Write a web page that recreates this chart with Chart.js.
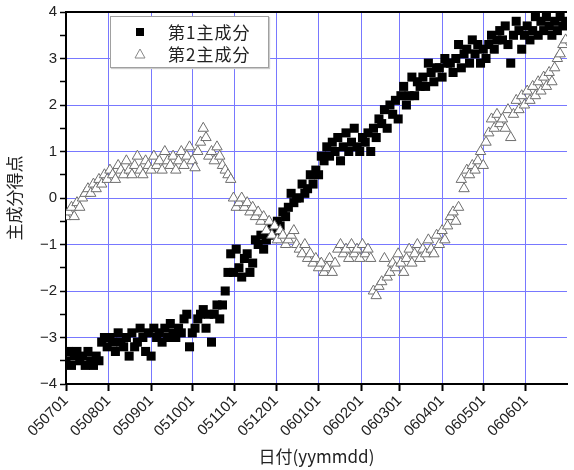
<!DOCTYPE html>
<html>
<head>
<meta charset="utf-8">
<script src="https://cdn.jsdelivr.net/npm/chart.js@4.4.1/dist/chart.umd.min.js"></script>
<style>
  html, body { margin: 0; padding: 0; background: #fff; }
  #wrap { position: relative; width: 574px; height: 470px; }
  #legend {
    position: absolute; left: 110px; top: 16px; width: 157px; height: 50px;
    border: 1px solid #a0a0a0; background: #fff; box-shadow: 1px 1px 1px #ccc;
    font-family: 'Noto Sans CJK JP', sans-serif; font-size: 17px; color: #222;
  }
  .row { position: absolute; left: 0; height: 22px; line-height: 22px; }
  .row span { position: absolute; left: 57px; white-space: nowrap; letter-spacing: 1px; }
  .sq { position: absolute; left: 25px; top: 7px; width: 8px; height: 8px; background: #000; }
  .tri { position: absolute; left: 23px; top: 5px; }
</style>
</head>
<body>
<div id="wrap">
  <canvas id="c" width="574" height="470"></canvas>
  <div id="legend">
    <div class="row" style="top:4px;"><div class="sq"></div><span>第1主成分</span></div>
    <div class="row" style="top:26px;"><svg class="tri" width="12" height="11"><polygon points="6,1 11,10 1,10" fill="#fff" stroke="#888" stroke-width="1"/></svg><span>第2主成分</span></div>
  </div>
</div>
<script>
// days since 2005-07-01
const days = [0,2,4,6,8,10,12,14,16,18,20,22,24,26,28,30,32,34,36,38,40,42,44,46,48,50,52,54,56,58,
  60,62,64,66,68,70,72,74,76,78,80,82,84,86,88,90,92,94,96,98,100,102,104,106,108,110,112,114,116,118,
  120,122,124,126,128,130,132,134,136,138,140,142,144,146,148,150,152,154,156,158,160,162,164,166,168,170,172,174,176,178,
  180,182,184,186,188,190,192,194,196,198,200,202,204,206,208,210,212,214,216,218,220,222,224,226,228,230,232,234,236,238,
  240,242,244,246,248,250,252,254,256,258,260,262,264,266,268,270,272,274,276,278,280,282,284,286,288,290,292,294,296,298,
  300,302,304,306,308,310,312,314,316,318,320,322,324,326,328,330,332,334,336,338,340,342,344,346,348,350,352,354,356,358,
  360,362,364];

const pc1 = [-3.5,-3.3,-3.6,-3.4,-3.3,-3.5,-3.4,-3.6,-3.3,-3.5,-3.6,-3.4,-3.5,-3.1,-3.0,-3.2,-3.0,-3.1,-3.3,-2.9,-3.1,-3.2,-3.0,-3.4,-2.9,-3.2,-3.1,-2.8,-3.0,-3.3,
  -2.9,-3.4,-2.8,-3.0,-2.9,-3.1,-2.8,-3.0,-2.7,-2.9,-3.0,-2.8,-2.9,-2.6,-2.5,-3.2,-2.9,-2.8,-2.6,-2.5,-2.4,-2.8,-2.5,-3.1,-2.5,-2.3,-2.6,-2.3,-2.0,-1.6,
  -1.2,-1.6,-1.1,-1.5,-1.7,-1.3,-1.2,-1.6,-1.4,-0.9,-1.0,-0.8,-1.1,-0.9,-0.8,-0.6,-0.7,-0.5,-0.6,-0.3,-0.4,-0.2,0.1,-0.1,0.0,0.0,0.3,0.1,0.2,0.5,
  0.3,0.6,0.5,0.9,0.8,1.1,0.9,1.2,1.0,1.3,0.8,1.1,1.4,1.0,1.2,1.5,1.1,1.0,1.3,1.2,1.4,1.0,1.5,1.3,1.7,1.6,1.9,1.5,2.0,1.8,
  2.1,1.7,2.2,2.4,2.0,2.2,2.6,2.2,2.5,2.4,2.6,2.4,2.9,2.7,2.5,2.8,2.8,2.6,3.0,2.9,2.9,2.7,3.0,3.3,2.8,3.1,3.2,2.9,3.4,3.1,
  3.3,2.9,3.2,3.0,3.3,3.5,3.2,3.4,3.6,3.4,3.7,3.3,2.9,3.5,3.8,3.6,3.2,3.5,3.7,3.4,3.6,3.9,3.5,3.8,3.6,3.9,3.7,3.5,3.8,3.6,
  3.9,3.7,3.8];

const pc2 = [-0.4,-0.3,-0.2,-0.4,-0.1,-0.2,0.0,0.1,0.2,0.1,0.3,0.2,0.4,0.3,0.5,0.4,0.6,0.5,0.4,0.7,0.6,0.5,0.8,0.6,0.5,0.7,0.9,0.6,0.5,0.8,
  0.7,0.6,0.9,0.7,0.8,0.6,1.0,0.8,0.7,0.9,0.6,0.8,1.0,0.7,0.9,1.1,0.8,0.65,1.0,1.2,1.5,1.3,0.9,1.0,0.8,1.1,0.9,0.7,0.6,0.5,
  0.4,0.0,-0.2,-0.1,0.0,-0.2,-0.1,-0.3,-0.2,-0.4,-0.3,-0.5,-0.4,-0.7,-0.5,-0.8,-0.6,-0.9,-0.7,-0.8,-1.0,-0.9,-0.8,-0.7,-1.0,-1.1,-1.2,-1.0,-1.3,-1.2,
  -1.4,-1.3,-1.5,-1.4,-1.6,-1.5,-1.3,-1.6,-1.4,-1.1,-1.0,-1.2,-1.1,-1.3,-1.0,-1.2,-1.1,-1.3,-1.0,-1.2,-1.1,-1.3,-2.0,-2.1,-1.9,-1.8,-1.3,-1.7,-1.6,-1.4,
  -1.5,-1.2,-1.4,-1.6,-1.3,-1.1,-1.4,-1.2,-1.0,-1.3,-1.1,-1.2,-0.9,-1.1,-1.2,-0.8,-1.0,-0.7,-0.9,-0.6,-0.4,-0.3,-0.5,-0.2,0.4,0.2,0.6,0.5,0.7,0.6,
  0.8,1.0,0.7,1.2,1.4,1.7,1.5,1.8,1.6,1.7,1.5,1.9,1.3,1.8,2.1,1.9,2.2,2.0,2.3,2.1,2.4,2.2,2.5,2.3,2.6,2.4,2.7,2.5,2.8,3.0,
  3.1,3.3,3.4];

const tickDays = [0,31,62,92,123,153,184,215,243,274,304,335];
const tickLabels = ['050701','050801','050901','051001','051101','051201','060101','060201','060301','060401','060501','060601'];

const GRID_BLUE = '#7878ff';
const FONT = "'Liberation Sans', 'Noto Sans CJK JP', sans-serif";

const frameTop = {
  id: 'frameTop',
  afterDraw(chart) {
    const { ctx, chartArea: a } = chart;
    ctx.save();
    ctx.strokeStyle = '#000';
    ctx.lineWidth = 2;
    ctx.beginPath();
    ctx.moveTo(a.left, a.top);
    ctx.lineTo(a.right, a.top);
    ctx.stroke();
    ctx.restore();
  }
};

new Chart(document.getElementById('c'), {
  type: 'scatter',
  data: {
    datasets: [
      {
        label: '第1主成分',
        data: days.map((d, i) => ({ x: d, y: pc1[i] })),
        pointStyle: 'rect', pointRadius: 6.4,
        backgroundColor: '#000', borderColor: '#000', borderWidth: 0,
        order: 1
      },
      {
        label: '第2主成分',
        data: days.map((d, i) => ({ x: d, y: pc2[i] })),
        pointStyle: 'triangle', pointRadius: 6,
        backgroundColor: '#fff', borderColor: '#6e6e6e', borderWidth: 1,
        order: 0
      }
    ]
  },
  options: {
    responsive: false,
    animation: false,
    layout: { padding: { top: 12, right: 0, left: 0, bottom: 0 } },
    plugins: { legend: { display: false }, tooltip: { enabled: false } },
    scales: {
      x: {
        type: 'linear', min: 0, max: 365,
        afterBuildTicks: s => { s.ticks = tickDays.map(v => ({ value: v })); },
        afterFit: s => { s.height = 86; },
        ticks: {
          autoSkip: false, minRotation: 45, maxRotation: 45, padding: 1,
          color: '#222', font: { family: FONT, size: 15 },
          callback: (v) => { const i = tickDays.indexOf(v); return i >= 0 ? tickLabels[i] : ''; }
        },
        grid: { color: GRID_BLUE, lineWidth: 1, tickLength: 7, tickColor: '#000', tickWidth: 2 },
        border: { display: true, color: '#000', width: 2 },
        title: { display: true, text: '日付(yymmdd)', color: '#222', font: { family: "'Noto Sans CJK JP', sans-serif", size: 17 }, padding: { top: 0, bottom: 3 } }
      },
      y: {
        min: -4, max: 4,
        afterFit: s => { s.width = 66; },
        ticks: {
          stepSize: 0.5, color: '#222', padding: 3,
          font: { family: FONT, size: 15 },
          callback: v => Number.isInteger(v) ? (v < 0 ? '\u2212' + Math.abs(v) : String(v)) : ''
        },
        grid: {
          color: c => Number.isInteger(c.tick.value) ? GRID_BLUE : 'rgba(0,0,0,0)',
          lineWidth: 1, tickLength: 6, tickColor: '#000', tickWidth: 1.5
        },
        border: { display: true, color: '#000', width: 2 },
        title: { display: true, text: '主成分得点', color: '#222', font: { family: "'Noto Sans CJK JP', sans-serif", size: 17 }, padding: { top: 4, bottom: 4 } }
      }
    }
  },
  plugins: [frameTop]
});
</script>
</body>
</html>
